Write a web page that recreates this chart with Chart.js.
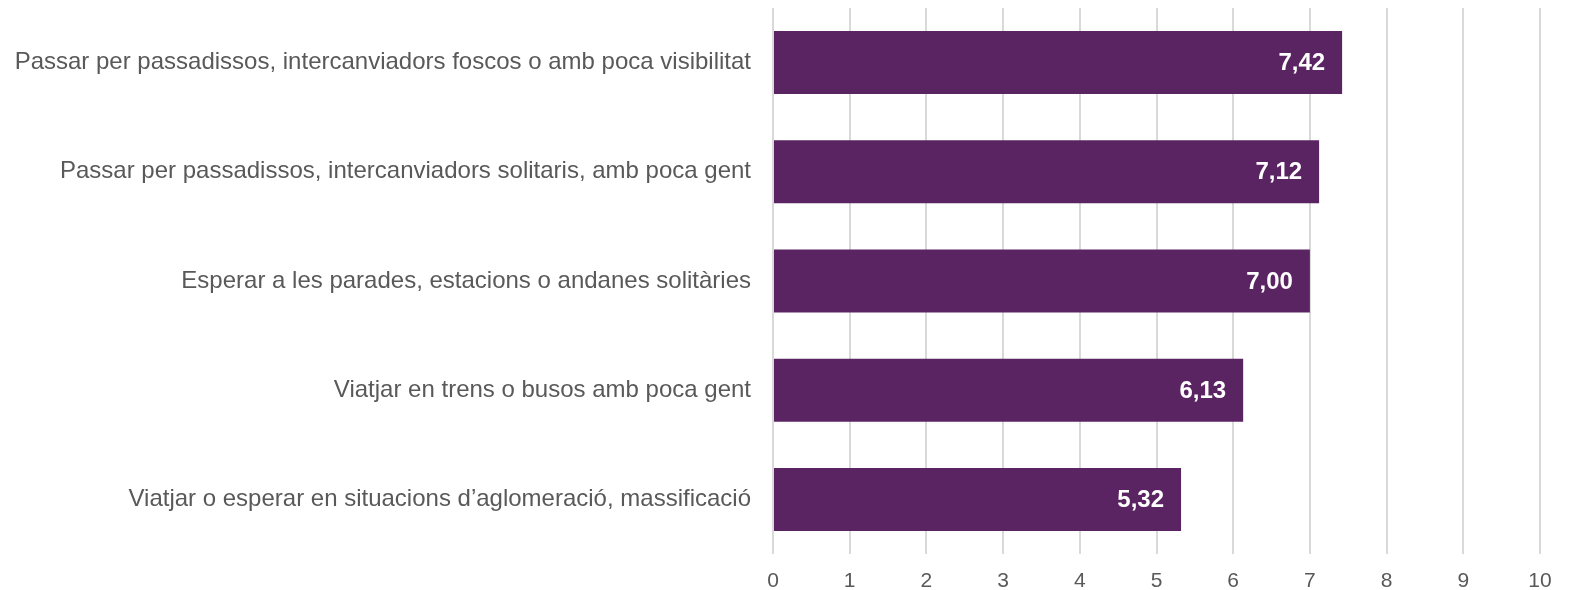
<!DOCTYPE html>
<html>
<head>
<meta charset="utf-8">
<script src="https://cdn.jsdelivr.net/npm/chart.js@4.4.1/dist/chart.umd.min.js"></script>
<style>
  html, body { margin: 0; padding: 0; background: #fff; }
  #wrap { width: 1573px; height: 590px; }
</style>
</head>
<body>
<div id="wrap"><canvas id="chart"></canvas></div>
<script>
// chart data
const categories = [
    'Passar per passadissos, intercanviadors foscos o amb poca visibilitat',
    'Passar per passadissos, intercanviadors solitaris, amb poca gent',
    'Esperar a les parades, estacions o andanes solitàries',
    'Viatjar en trens o busos amb poca gent',
    'Viatjar o esperar en situacions d\u2019aglomeració, massificació'
];
const scores = [7.42, 7.12, 7.00, 6.13, 5.32];
const xTicks = [0, 1, 2, 3, 4, 5, 6, 7, 8, 9, 10];

const fontFamily = '"Liberation Sans", Arial, sans-serif';

// white value labels drawn inside the end of each bar
const valueLabels = {
    id: 'valueLabels',
    afterDatasetsDraw(chart) {
        const ctx = chart.ctx;
        const meta = chart.getDatasetMeta(0);
        ctx.save();
        ctx.fillStyle = '#ffffff';
        ctx.font = 'bold 24px ' + fontFamily;
        ctx.textAlign = 'right';
        ctx.textBaseline = 'middle';
        meta.data.forEach((bar, i) => {
            const txt = scores[i].toFixed(2).replace('.', ',');
            ctx.fillText(txt, bar.x - 17, bar.y + 1);
        });
        ctx.restore();
    }
};

new Chart(document.getElementById('chart'), {
    type: 'bar',
    data: {
        labels: categories,
        datasets: [{
            data: scores,
            backgroundColor: '#5a2462',
            borderWidth: 0,
            categoryPercentage: 1,
            barPercentage: 0.577
        }]
    },
    options: {
        indexAxis: 'y',
        responsive: true,
        maintainAspectRatio: false,
        animation: false,
        layout: { padding: { top: 8, right: 33, left: 0, bottom: 0 } },
        plugins: {
            legend: { display: false },
            tooltip: { enabled: false }
        },
        scales: {
            x: {
                min: 0,
                max: 10,
                afterBuildTicks: (scale) => {
                    scale.ticks = xTicks.map(v => ({ value: v }));
                },
                afterFit: (scale) => { scale.height = 36; },
                grid: { color: '#d9d9d9', lineWidth: 2, drawTicks: false },
                border: { display: false },
                ticks: {
                    padding: 15,
                    color: '#595959',
                    font: { family: fontFamily, size: 21 }
                }
            },
            y: {
                afterFit: (scale) => {
                    scale.width = 773;
                    scale.paddingTop = 0;
                    scale.paddingBottom = 0;
                },
                grid: { display: false, drawTicks: false },
                border: { display: false },
                ticks: {
                    padding: 22,
                    color: '#595959',
                    font: { family: fontFamily, size: 24 }
                }
            }
        }
    },
    plugins: [valueLabels]
});
</script>
</body>
</html>
